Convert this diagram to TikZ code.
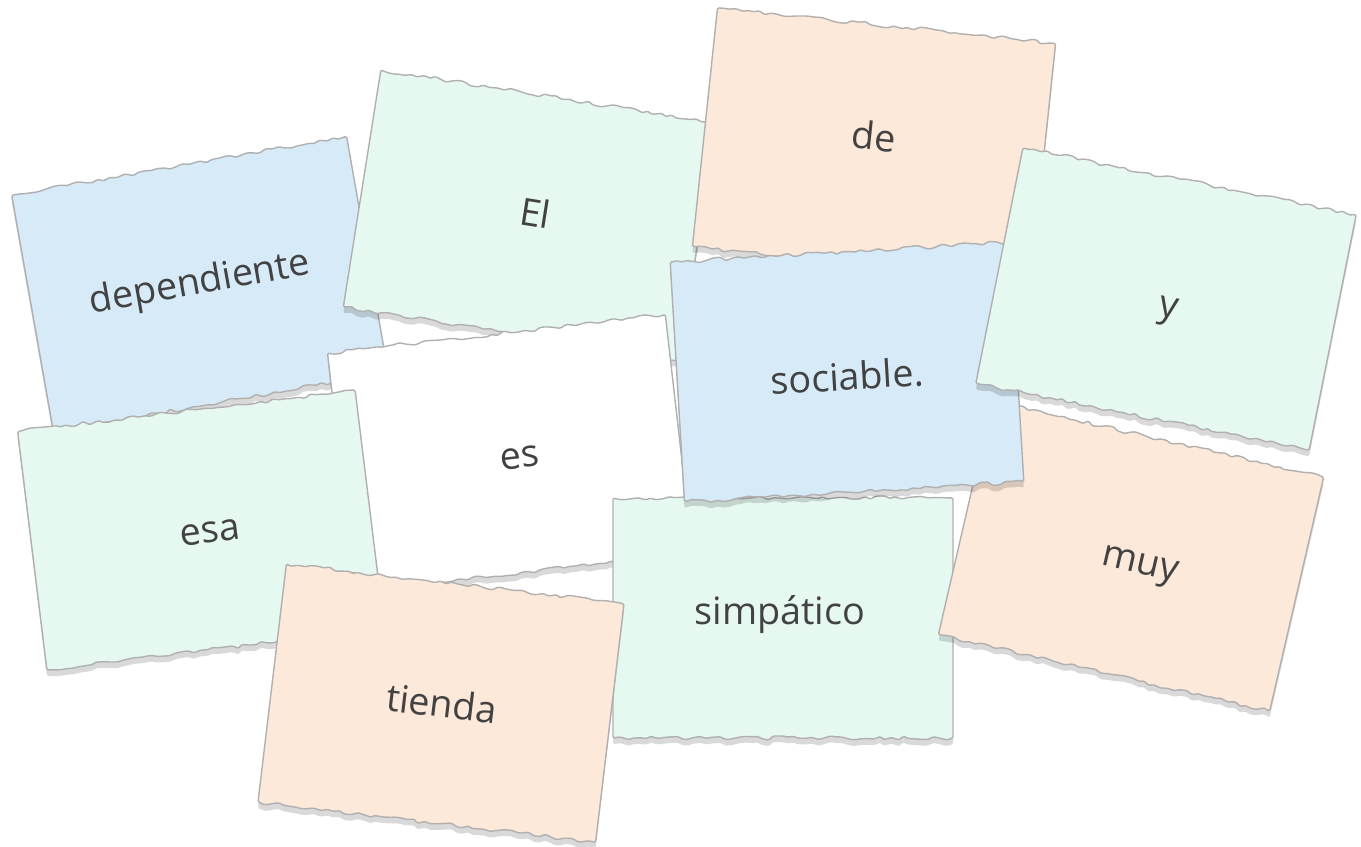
\documentclass[tikz,border=0pt]{standalone}
\usepackage{fontspec}
\setmainfont{Open Sans}
\usetikzlibrary{decorations.pathmorphing}
\usetikzlibrary{shadows}

\definecolor{cardblue}{HTML}{D6EAF7}
\definecolor{cardmint}{HTML}{E6F9F1}
\definecolor{cardpeach}{HTML}{FDE9DA}
\definecolor{cardwhite}{HTML}{FFFFFF}
\definecolor{edgegray}{HTML}{B0B0B0}
\definecolor{wordgray}{HTML}{424242}

% #1 name, #2 centre, #3 angle, #4 fill, #5 word, #6 word offset on the card
\newcommand{\wordcard}[6]{
 \begin{scope}[shift={(#2)}, rotate=#3]
  \draw[card, fill=#4] (-170,-120) decorate{--(170,-120)} --(170,120) decorate{--(-170,120)} --cycle;
  \node[word, rotate=#3] (#1) at (#6) {#5};
 \end{scope}
}

\begin{document}
\begin{tikzpicture}[x=0.02cm, y=-0.02cm,
  card/.style={draw=edgegray, line width=0.8pt, rounded corners=0.8pt,
    decoration={random steps, segment length=3.5pt, amplitude=1.2pt},
    drop shadow={shadow xshift=0pt, shadow yshift=-3.5pt, opacity=.15, fill=black}},
  word/.style={text=wordgray, font=\fontsize{21.5}{26}\selectfont, inner sep=0pt}]
\pgfmathsetseed{11}
\useasboundingbox (0,0) rectangle (1361,847);
\wordcard{dep}{200,284}{10}{cardblue}{dependiente}{0,0}
\wordcard{el}{530,215}{-9}{cardmint}{El}{5,-3}
\wordcard{es}{510,453}{6.5}{cardwhite}{es}{9,6}
\wordcard{esa}{201,530}{7}{cardmint}{esa}{9,4}
\wordcard{de}{874,145}{-6}{cardpeach}{de}{-1,-9}
\wordcard{simp}{783,618}{0}{cardmint}{simpático}{-3,-3}
\wordcard{muy}{1131,556}{-13}{cardpeach}{muy}{11,9}
\wordcard{soc}{847,372}{3.4}{cardblue}{sociable.}{0,4}
\wordcard{y}{1166,299}{-11.3}{cardmint}{y}{4,12}
\wordcard{tienda}{441,703}{-6.8}{cardpeach}{tienda}{1,0}
\end{tikzpicture}
\end{document}
